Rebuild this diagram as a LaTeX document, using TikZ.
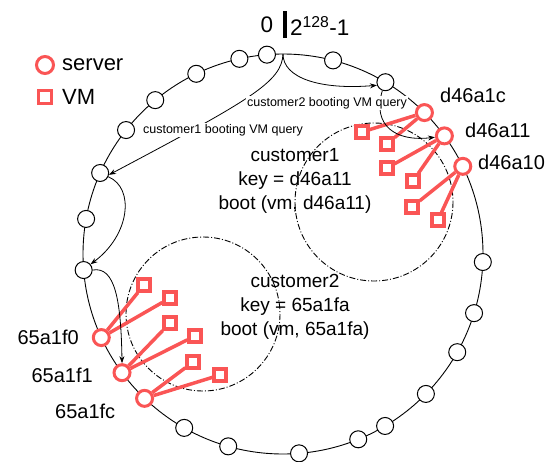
\documentclass[tikz,border=0pt]{standalone}
\usepackage{fontspec}
\setmainfont{Liberation Sans}
\usetikzlibrary{arrows.meta,calc}
\definecolor{srvred}{RGB}{250,85,85}
\tikzset{
  ringnode/.style={circle,draw,line width=1pt,fill=white,minimum size=17pt,inner sep=0pt},
  server/.style={circle,draw=srvred,line width=3pt,fill=white,minimum size=16pt,inner sep=0pt},
  vm/.style={rectangle,draw=srvred,line width=3.2pt,fill=white,minimum size=12pt,inner sep=0pt},
  link/.style={srvred,line width=3.5pt},
  query/.style={line width=0.8pt,-{Stealth[length=7pt,width=5pt]}},
  zone/.style={line width=0.9pt,dash pattern=on 6pt off 2pt on 1pt off 2pt},
  bigtxt/.style={font=\fontsize{19}{24}\selectfont,align=center},
  idtxt/.style={font=\fontsize{20}{24}\selectfont,inner sep=0pt},
  legtxt/.style={font=\fontsize{22}{24}\selectfont,inner sep=0pt,anchor=west},
  smalltxt/.style={font=\fontsize{12.5}{14}\selectfont,fill=white,inner sep=1pt},
  titletxt/.style={font=\fontsize{22.5}{24}\selectfont,inner sep=0pt},
}
\begin{document}
\begin{tikzpicture}[x=1pt,y=-1pt]
\useasboundingbox (0,0) rectangle (552,461);

% identifier ring
\coordinate (C) at (283,254);
\draw[line width=0.9pt] (C) circle[radius=200];
\path (C) ++(-90:200) coordinate (top);

% customer zones
\draw[zone] (374,202) circle[radius=79];
\draw[zone] (203,314) circle[radius=77];

% plain ring members
\foreach \a [count=\i] in {94.6,102.6,115.7,129.7,141.7,156.1,169.9,184.6,240.4,254.1,274.6,292.1,300.7,315.6,330.6,342.8,357.7,59.2,75.5}
  \path (C) ++(-\a:200) node[ringnode] (r\i) {};

% servers on the ring
\path (C) ++(-45:200)   node[server] (s1c) {};
\path (C) ++(-36.2:200) node[server] (s11) {};
\path (C) ++(-26:200)   node[server] (s10) {};
\path (C) ++(-204.7:200) node[server] (f0) {};
\path (C) ++(-216.4:200) node[server] (f1) {};
\path (C) ++(-226.2:200) node[server] (fc) {};

% virtual machines
\node[vm] (v1) at (362,132) {};
\node[vm] (v2) at (387,144) {};
\node[vm] (v3) at (387,168) {};
\node[vm] (v4) at (413,181) {};
\node[vm] (v5) at (412,207) {};
\node[vm] (v6) at (438,220) {};
\node[vm] (w1) at (144,285) {};
\node[vm] (w2) at (170,298) {};
\node[vm] (w3) at (170,323) {};
\node[vm] (w4) at (195,336) {};
\node[vm] (w5) at (193,362) {};
\node[vm] (w6) at (220,375) {};

\foreach \s/\v in {s1c/v1,s1c/v2,s11/v3,s11/v4,s10/v5,s10/v6,f0/w1,f0/w2,f1/w3,f1/w4,fc/w5,fc/w6}
  \draw[link] (\s) -- (\v);

% lookup paths
\draw[query] (top) .. controls (283,78) and (320,90) .. (r18.200);
\draw[query] (top) .. controls (282,82) and (250,100) .. (r6.-12);
\draw[query] (r6.-25) .. controls (135,188) and (130,235) .. (r8.40);
\draw[query] (r8.east) .. controls (115,266) and (121,300) .. (f1.north);
\draw[query] (r18.250) .. controls (372,125) and (395,142) .. (s11.188);

\node[smalltxt] (q2) at (327,103) {customer2 booting VM query};
\node[smalltxt] (q1) at (223,130) {customer1 booting VM query};

% requests
\node[bigtxt] (c1) at (295,181) {customer1\\key = d46a11\\boot (vm, d46a11)};
\node[bigtxt] (c2) at (295,307) {customer2\\key = 65a1fa\\boot (vm, 65a1fa)};

% server identifiers
\node[idtxt,anchor=west] (l1c) at (440,95) {d46a1c};
\node[idtxt,anchor=west] (l11) at (465,130) {d46a11};
\node[idtxt,anchor=west] (l10) at (478,162) {d46a10};
\node[idtxt,anchor=east] (lf0) at (79,337) {65a1f0};
\node[idtxt,anchor=east] (lf1) at (93,375) {65a1f1};
\node[idtxt,anchor=west] (lfc) at (55,411) {65a1fc};

% key space boundary
\node[titletxt] (t0) at (267,25) {0};
\coordinate (b1) at (285,11);
\coordinate (b2) at (285,38);
\draw[line width=3.5pt] (b1) -- (b2);
\node[titletxt,anchor=west] (t1) at (290,26) {2\textsuperscript{128}-1};

% legend
\node[server,minimum size=17pt] (ks) at (45,65) {};
\node[legtxt] (kst) at (62,65) {server};
\node[vm,minimum size=13pt] (kv) at (45,97) {};
\node[legtxt] (kvt) at (62,97) {VM};
\end{tikzpicture}
\end{document}
